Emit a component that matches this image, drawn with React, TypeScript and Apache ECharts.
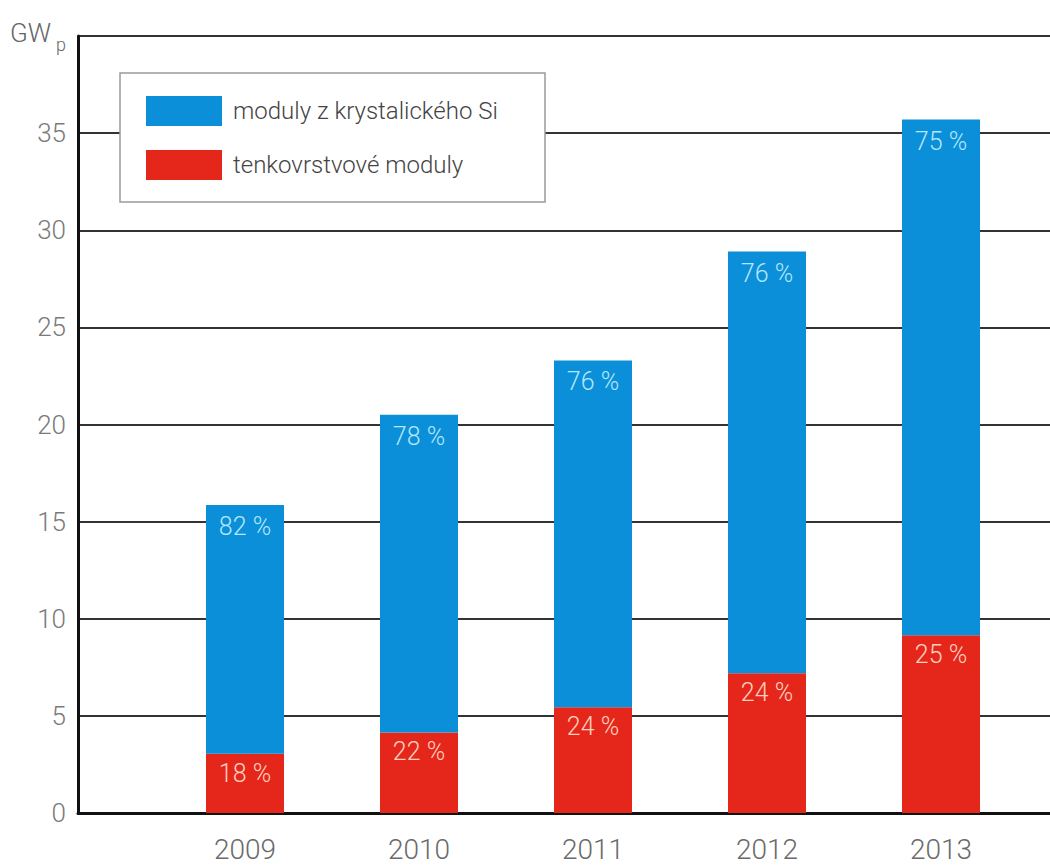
import React, { useEffect, useRef } from "react";
import * as echarts from "echarts";

const years = ["2009", "2010", "2011", "2012", "2013"];
const crystallineGW = [12.8, 16.35, 17.85, 21.7, 26.55];
const thinFilmGW = [3.05, 4.15, 5.45, 7.2, 9.15];
const crystallineShare = ["82 %", "78 %", "76 %", "76 %", "75 %"];
const thinFilmShare = ["18 %", "22 %", "24 %", "24 %", "25 %"];
const seriesNames = ["moduly z krystalického Si", "tenkovrstvové moduly"];
const yTicks = { min: 0, max: 40, interval: 5 };

const FONT = "Roboto, 'Liberation Sans', sans-serif";

export default function App() {
  const ref = useRef<HTMLDivElement>(null);
  useEffect(() => {
    if (!ref.current) return;
    const chart = echarts.init(ref.current, null, { renderer: "svg" });
    chart.setOption({
      animation: false,
      backgroundColor: "#ffffff",
      textStyle: { fontFamily: FONT },
      grid: [
        { left: 78, right: 0, top: 36, bottom: 55 },
        { left: 158, right: 22, top: 36, bottom: 55 },
      ],
      xAxis: [
        {
          gridIndex: 0,
          type: "value",
          min: 0,
          max: 1,
          axisLine: { show: true, onZero: false, lineStyle: { color: "#111", width: 3 } },
          axisTick: { show: false },
          axisLabel: { show: false },
          splitLine: { show: false },
        },
        {
          gridIndex: 1,
          type: "category",
          data: years,
          axisLine: { show: false },
          axisTick: { show: false },
          axisLabel: {
            color: "#6a6a6a",
            fontSize: 28,
            fontWeight: 300,
            fontFamily: FONT,
            margin: 22,
          },
        },
      ],
      yAxis: [
        {
          gridIndex: 0,
          type: "value",
          min: yTicks.min,
          max: yTicks.max,
          interval: yTicks.interval,
          axisLine: { show: true, lineStyle: { color: "#111", width: 3 } },
          axisTick: { show: false },
          axisLabel: {
            color: "#7a7a7a",
            fontSize: 26,
            fontWeight: 300,
            fontFamily: FONT,
            margin: 12,
            formatter: (v: number) => (v === yTicks.max ? "" : String(v)),
          },
          splitLine: { show: true, lineStyle: { color: "#333", width: 2 } },
        },
        {
          gridIndex: 1,
          type: "value",
          min: yTicks.min,
          max: yTicks.max,
          show: false,
        },
      ],
      legend: {
        orient: "vertical",
        left: 146,
        top: 96,
        padding: 0,
        itemWidth: 76,
        itemHeight: 30,
        itemGap: 24,
        icon: "rect",
        z: 20,
        data: [seriesNames[0], seriesNames[1]],
        textStyle: {
          color: "#444",
          fontSize: 24,
          fontWeight: 300,
          fontFamily: FONT,
          padding: [0, 0, 0, 6],
        },
      },
      graphic: [
        {
          type: "rect",
          z: 10,
          shape: { x: 120, y: 73, width: 425, height: 129 },
          style: { fill: "#ffffff", stroke: "#9a9a9a", lineWidth: 1.5 },
        },
        {
          type: "text",
          z: 10,
          left: 10,
          top: 20,
          style: { text: "GW", fill: "#666", fontSize: 26, fontWeight: 300, fontFamily: FONT },
        },
        {
          type: "text",
          z: 10,
          left: 56,
          top: 35,
          style: { text: "p", fill: "#666", fontSize: 18, fontWeight: 300, fontFamily: FONT },
        },
      ],
      series: [
        {
          name: seriesNames[1],
          type: "bar",
          xAxisIndex: 1,
          yAxisIndex: 1,
          stack: "total",
          barWidth: 78,
          data: thinFilmGW,
          itemStyle: { color: "#e5261b" },
          label: {
            show: true,
            position: "insideTop",
            distance: 7,
            color: "#ffd0bf",
            fontSize: 25,
            fontWeight: 300,
            fontFamily: FONT,
            formatter: (p: any) => thinFilmShare[p.dataIndex],
          },
        },
        {
          name: seriesNames[0],
          type: "bar",
          xAxisIndex: 1,
          yAxisIndex: 1,
          stack: "total",
          barWidth: 78,
          data: crystallineGW,
          itemStyle: { color: "#0a8fd8" },
          label: {
            show: true,
            position: "insideTop",
            distance: 9,
            color: "#b4e6fc",
            fontSize: 25,
            fontWeight: 300,
            fontFamily: FONT,
            formatter: (p: any) => crystallineShare[p.dataIndex],
          },
        },
      ],
    });
    return () => chart.dispose();
  }, []);
  return (
    <div
      ref={ref}
      style={{ position: "fixed", left: 0, top: 0, width: 1050, height: 868 }}
    />
  );
}
